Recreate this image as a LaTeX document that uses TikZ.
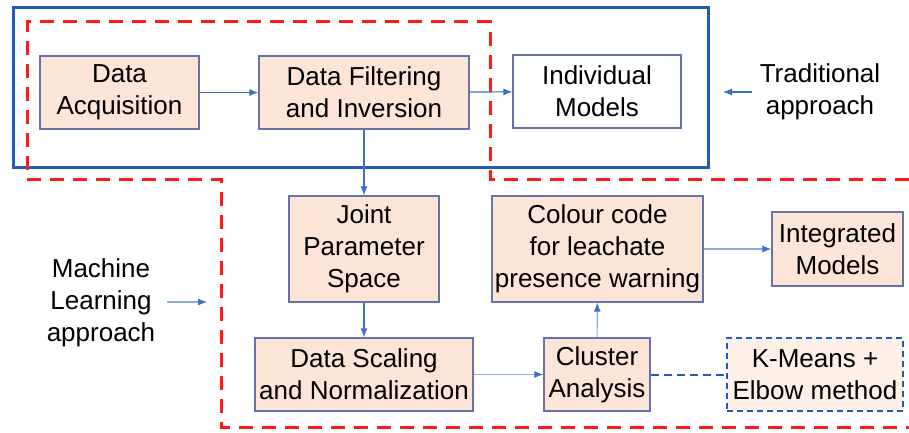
\documentclass[tikz,border=0pt]{standalone}
\usepackage{fontspec}
\setmainfont{Liberation Sans}
\usetikzlibrary{arrows.meta}
\definecolor{peach}{HTML}{FCE4D6}
\definecolor{peachlight}{HTML}{FEF0E7}
\definecolor{boxborder}{HTML}{6672A8}
\definecolor{outerblue}{HTML}{1F5DB8}
\definecolor{arrowblue}{HTML}{3D6FC6}
\definecolor{lightarrow}{HTML}{8EAEE0}
\definecolor{redline}{HTML}{FF1A1A}
\tikzset{
  stepbox/.style={draw=boxborder, line width=1.2pt, fill=peach, align=center, inner sep=0pt},
  whitebox/.style={draw=boxborder, line width=1.2pt, fill=white, align=center, inner sep=0pt},
  kmbox/.style={draw=outerblue, line width=2pt, dash pattern=on 6pt off 4pt, fill=peachlight, align=center, inner sep=0pt},
  plain/.style={align=center, inner sep=0pt},
  flow/.style={draw=arrowblue, line width=1.1pt, -{Latex[length=9pt,width=7pt]}},
  lightflow/.style={draw=lightarrow, line width=1.1pt, -{Latex[length=9pt,width=7pt,color=arrowblue]}},
  reddash/.style={draw=redline, line width=3pt, dash pattern=on 14pt off 9pt},
}
\begin{document}
\begin{tikzpicture}[x=1pt,y=-1pt, font=\fontsize{26}{32}\selectfont]
\useasboundingbox (0,0) rectangle (909,433);
% outer frames
\draw[outerblue, line width=3pt] (13,8) rectangle (708,167);
\draw[reddash] (909,179) -- (490,179) -- (490,22) -- (27,22) -- (27,179) -- (221,179) -- (221,427) -- (909,427);
% nodes
\node[stepbox, minimum width=159pt, minimum height=73pt] (da) at (119.5,92.5) {Data\\Acquisition};
\node[stepbox, minimum width=210pt, minimum height=73pt] (df) at (364,92.5) {Data Filtering\\and Inversion};
\node[whitebox, minimum width=168pt, minimum height=73pt] (im) at (597,91.5) {Individual\\Models};
\node[plain] (trad) at (820,92) {Traditional\\approach};
\node[stepbox, minimum width=150pt, minimum height=106pt] (jps) at (364,249) {Joint\\Parameter\\Space};
\node[stepbox, minimum width=218pt, minimum height=73pt] (ds) at (364,374.5) {Data Scaling\\and Normalization};
\node[stepbox, minimum width=106pt, minimum height=73pt] (ca) at (597,374.5) {Cluster\\Analysis};
\node[kmbox, minimum width=176pt, minimum height=73pt] (km) at (815,374.5) {K-Means +\\Elbow method};
\node[stepbox, minimum width=211pt, minimum height=106pt] (cc) at (597.5,249) {Colour code\\for leachate\\presence warning};
\node[stepbox, minimum width=131pt, minimum height=74pt] (intm) at (837.5,249) {Integrated\\Models};
\node[plain] (ml) at (101,303) {Machine\\Learning\\approach};
% free ends
\coordinate (tradA) at (752,92);
\coordinate (tradB) at (723,92);
\coordinate (mlA) at (167,302);
\coordinate (mlB) at (207,302);
% connectors
\draw[flow] (da) -- (df);
\draw[flow] (df) -- (im);
\draw[flow] (tradA) -- (tradB);
\draw[flow] (df) -- (jps);
\draw[flow] (jps) -- (ds);
\draw[lightflow] (ds) -- (ca);
\draw[lightflow] (ca) -- (cc);
\draw[lightflow] (cc) -- (intm);
\draw[lightflow] (mlA) -- (mlB);
\draw[outerblue, line width=2pt, dash pattern=on 8pt off 5pt] (ca) -- (km);
\end{tikzpicture}
\end{document}
